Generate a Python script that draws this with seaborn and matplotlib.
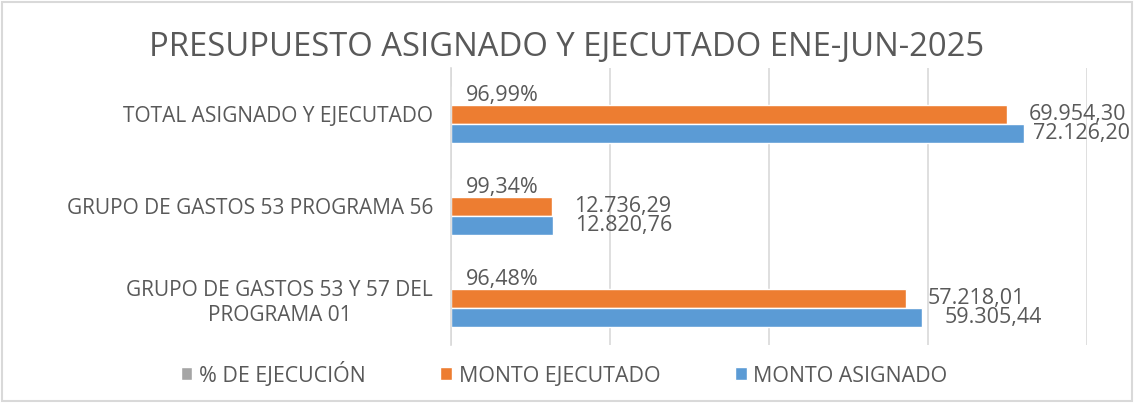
import matplotlib
matplotlib.use("Agg")
import matplotlib.pyplot as plt
import seaborn as sns
import pandas as pd
from matplotlib.patches import Rectangle

# Data
CATEGORIAS = [
    'TOTAL ASIGNADO Y EJECUTADO',
    'GRUPO DE GASTOS 53 PROGRAMA 56',
    'GRUPO DE GASTOS 53 Y 57 DEL\nPROGRAMA 01',
]
SERIES = ['% DE EJECUCIÓN', 'MONTO EJECUTADO', 'MONTO ASIGNADO']
PCT_EJECUCION = [0.9699, 0.9934, 0.9648]
MONTO_EJECUTADO = [69954.30, 12736.29, 57218.01]
MONTO_ASIGNADO = [72126.20, 12820.76, 59305.44]

COLORS = ['#A5A5A5', '#ED7D31', '#5B9BD5']
TEXT = '#595959'
GRID = '#D9D9D9'


def fmt_monto(v):
    s = f"{v:,.2f}"
    return s.replace(',', 'X').replace('.', ',').replace('X', '.')


def fmt_pct(p):
    return f"{p * 100:.2f}".replace('.', ',') + '%'


rows = []
for serie, vals in zip(SERIES, [PCT_EJECUCION, MONTO_EJECUTADO, MONTO_ASIGNADO]):
    for cat, v in zip(CATEGORIAS, vals):
        rows.append({'categoria': cat, 'serie': serie, 'valor': v})
df = pd.DataFrame(rows)

sns.set_theme(style='white')
plt.rcParams['font.family'] = ['Open Sans', 'DejaVu Sans']

fig = plt.figure(figsize=(11.34, 4.03), dpi=100)
ax = fig.add_axes([451 / 1134, 1 - 345 / 403, (1087 - 451) / 1134, (345 - 68) / 403])

sns.barplot(data=df, y='categoria', x='valor', hue='serie', hue_order=SERIES,
            order=CATEGORIAS, palette=COLORS, orient='h', width=0.62,
            saturation=1, ax=ax)

ax.set_xlim(0, 80000)
ax.set_xticks(range(0, 80001, 20000))
ax.xaxis.grid(True, color=GRID, lw=1.2)
ax.set_axisbelow(True)
ax.tick_params(axis='x', length=0, labelbottom=False)
ax.tick_params(axis='y', length=0, pad=13, labelsize=15, labelcolor=TEXT)
for lbl in ax.get_yticklabels():
    lbl.set_multialignment('center')
    lbl.set_linespacing(1.25)
ax.set_xlabel('')
ax.set_ylabel('')
for s in ['top', 'right', 'bottom']:
    ax.spines[s].set_visible(False)
ax.spines['left'].set_color(GRID)
ax.spines['left'].set_linewidth(1.2)

# data labels
all_labels = [
    [fmt_pct(p) for p in PCT_EJECUCION],
    [fmt_monto(v) for v in MONTO_EJECUTADO],
    [fmt_monto(v) for v in MONTO_ASIGNADO],
]
for k, (container, labels) in enumerate(zip(ax.containers, all_labels)):
    for i, (bar, lab) in enumerate(zip(container, labels)):
        pad = 15 if k == 0 else 22
        if k == 2 and i == 0:
            pad = 9
        yc = bar.get_y() + bar.get_height() / 2
        ax.annotate(lab, (bar.get_width(), yc), xytext=(pad, 0),
                    textcoords='offset pixels', ha='left', va='center',
                    fontsize=15.5, color=TEXT, annotation_clip=False)

handles, labels = ax.get_legend_handles_labels()
ax.get_legend().remove()
fig.legend(handles, labels, loc='center', bbox_to_anchor=(564 / 1134, 1 - 374 / 403),
           ncol=3, frameon=False, fontsize=15.4, labelcolor=TEXT,
           handlelength=0.55, handleheight=0.55, handletextpad=0.3, columnspacing=3.5)

fig.text(0.5, 1 - 48 / 403, 'PRESUPUESTO ASIGNADO Y EJECUTADO ENE-JUN-2025',
         ha='center', va='center', fontsize=23.6, color=TEXT)

fig.patches.append(Rectangle((0.002, 0.004), 0.996, 0.992, transform=fig.transFigure,
                             fill=False, edgecolor=GRID, lw=1.5))

fig.savefig('out.png', dpi=100, facecolor='white')
